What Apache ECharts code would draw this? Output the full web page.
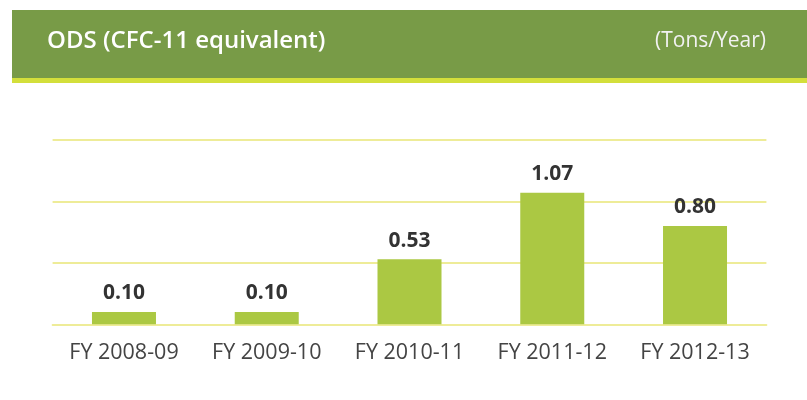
<!DOCTYPE html>
<html>
<head>
<meta charset="utf-8">
<script src="https://cdn.jsdelivr.net/npm/echarts@6/dist/echarts.min.js"></script>
<style>
html,body{margin:0;padding:0;background:#fff;}
#c{width:807px;height:400px;}
</style>
</head>
<body>
<div id="c"></div>
<script>
const categories = ['FY 2008-09', 'FY 2009-10', 'FY 2010-11', 'FY 2011-12', 'FY 2012-13'];
const odsValues = [0.10, 0.10, 0.53, 1.07, 0.80];
const titleText = 'ODS (CFC-11 equivalent)';
const unitText = '(Tons/Year)';

const chart = echarts.init(document.getElementById('c'), null, {renderer: 'canvas'});
chart.setOption({
  animation: false,
  backgroundColor: '#ffffff',
  graphic: [
    {type: 'rect', shape: {x: 12, y: 10, width: 795, height: 68}, style: {fill: '#789b47'}, z: 0},
    {type: 'rect', shape: {x: 12, y: 78, width: 795, height: 5}, style: {fill: '#d3df3b'}, z: 0},
    {type: 'text', left: 47, top: 29, style: {text: titleText, fill: '#ffffff', font: '600 24px "Open Sans"'}, z: 1},
    {type: 'text', right: 41, top: 31, style: {text: unitText, fill: '#f2f2f2', font: '21px "Open Sans"'}, z: 1}
  ],
  grid: {left: 52.6, right: 40.6, top: 140, bottom: 75.7, containLabel: false},
  xAxis: {
    type: 'category',
    data: categories,
    axisLine: {show: true, lineStyle: {color: '#eeec98', width: 2}},
    axisTick: {show: false},
    axisLabel: {color: '#444444', fontSize: 21.5, fontFamily: 'Open Sans', margin: 18, interval: 0, hideOverlap: false}
  },
  yAxis: {
    type: 'value',
    min: 0, max: 1.5, interval: 0.5,
    axisLine: {show: false},
    axisTick: {show: false},
    axisLabel: {show: false},
    splitLine: {show: true, lineStyle: {color: '#eeec98', width: 2}}
  },
  series: [{
    type: 'bar',
    data: odsValues,
    barWidth: 64,
    itemStyle: {color: '#abc843'},
    label: {
      show: true,
      position: 'top',
      distance: 8,
      formatter: p => p.value.toFixed(2),
      color: '#333333',
      fontSize: 21,
      fontWeight: 'bold',
      fontFamily: 'Open Sans'
    }
  }]
});
</script>
</body>
</html>
